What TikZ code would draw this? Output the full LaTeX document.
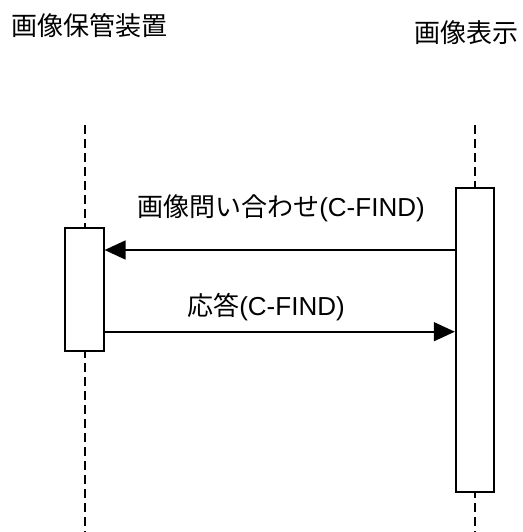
\documentclass[tikz,border=0pt]{standalone}
\usepackage{fontspec}
\setmainfont{Liberation Sans}
\newfontfamily\jp{Noto Sans CJK JP}
\usetikzlibrary{arrows.meta}
\tikzset{
  actbox/.style={draw=black, line width=1.8pt, fill=white, inner sep=0pt},
  lifeline/.style={line width=2.4pt, dash pattern=on 9pt off 5pt},
  msg/.style={line width=1.6pt, -{Triangle[length=21pt,width=19pt]}},
  lbl/.style={inner sep=0pt, font=\fontsize{26}{30}\selectfont},
}
\begin{document}
\begin{tikzpicture}[x=1pt,y=-1pt]
\useasboundingbox (0,0) rectangle (522,532);
% titles
\node[lbl, anchor=west] (t1) at (11,26) {\jp 画像保管装置};
\node[lbl, anchor=west] (t2) at (414,33) {\jp 画像表示};
% lifeline ends
\coordinate (l1top) at (85,125);
\coordinate (l1bot) at (85,532);
\coordinate (l2top) at (475,125);
\coordinate (l2bot) at (475,532);
\draw[lifeline] (l1top) -- (l1bot);
\draw[lifeline] (l2top) -- (l2bot);
% activation boxes
\node[actbox, minimum width=38.6pt, minimum height=122.7pt] (lbox) at (84.4,289.4) {};
\node[actbox, minimum width=38.6pt, minimum height=304pt] (rbox) at (475,340.3) {};
% messages
\coordinate (m1) at (0,250);
\coordinate (m2) at (0,331.7);
\draw[msg] (rbox.west |- m1) -- (lbox.east |- m1);
\draw[msg] (lbox.east |- m2) -- (rbox.west |- m2);
% labels
\node[lbl] (a1) at (281,208) {{\jp 画像問い合わせ}(C-FIND)};
\node[lbl] (a2) at (266,307) {{\jp 応答}(C-FIND)};
\end{tikzpicture}
\end{document}
